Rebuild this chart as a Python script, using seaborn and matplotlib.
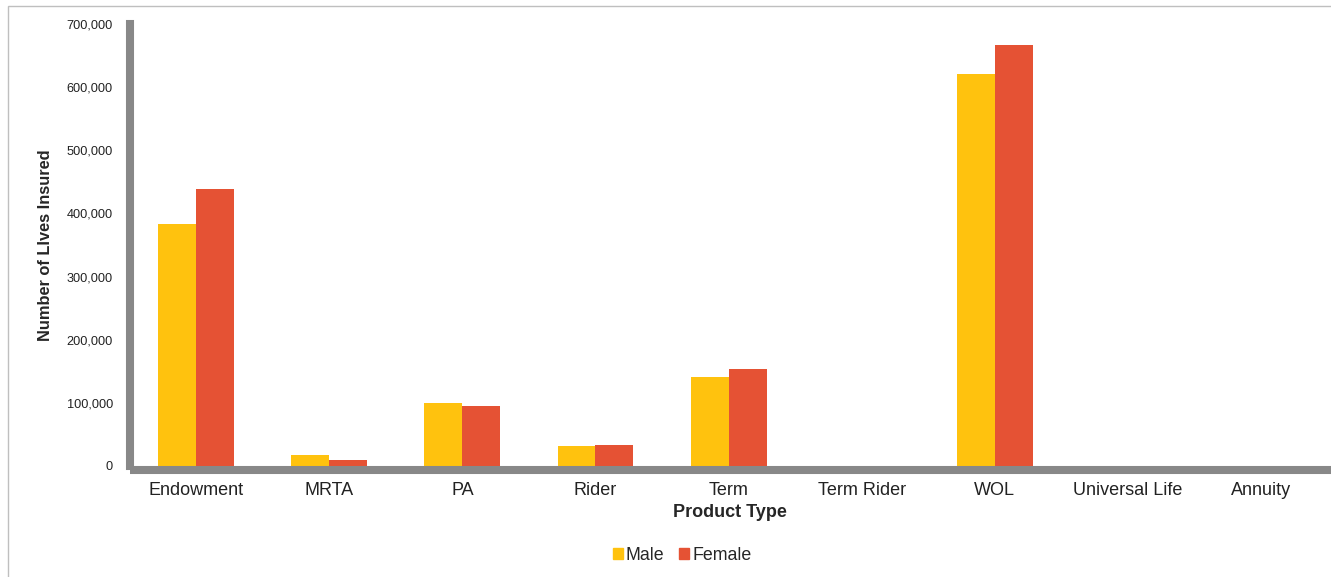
import pandas as pd
import matplotlib.pyplot as plt
import matplotlib.ticker as mtick
import matplotlib.patches as mpatches
import seaborn as sns

### data
products = ['Endowment', 'MRTA', 'PA', 'Rider', 'Term', 'Term Rider',
            'WOL', 'Universal Life', 'Annuity']
male = [384000, 17000, 99000, 32000, 141000, 0, 621000, 0, 0]
female = [439000, 10000, 95000, 34000, 154000, 0, 667000, 0, 0]
genders = ['Male', 'Female']
colors = ['#FFC20E', '#E55234']

df = pd.DataFrame({'Product': products * 2,
                   'Gender': ['Male'] * len(products) + ['Female'] * len(products),
                   'Lives': male + female})

sns.set_style('white')
plt.rcParams['font.family'] = ['Liberation Sans', 'DejaVu Sans']

fig = plt.figure(figsize=(13.31, 5.77), dpi=100)
ax = fig.add_axes([129.5 / 1331, 1 - 466 / 577, (1331 - 129.5) / 1331, (466 - 24) / 577])

sns.barplot(data=df, x='Product', y='Lives', hue='Gender', order=products,
            hue_order=genders, palette=colors, width=0.57, saturation=1,
            edgecolor='none', ax=ax, legend=False)

# axis runs a little past the last category, out to the frame edge
ax.set_xlim(-0.5, len(products) - 0.5 + 0.025)
ax.set_ylim(0, 700000)
ax.yaxis.set_major_locator(mtick.MultipleLocator(100000))
ax.yaxis.set_major_formatter(mtick.StrMethodFormatter('{x:,.0f}'))
ax.tick_params(axis='y', length=0, pad=12, labelsize=9.2, colors='#222222')
ax.tick_params(axis='x', length=0, pad=8, labelsize=13, colors='#222222')

for s in ['top', 'right']:
    ax.spines[s].set_visible(False)
for s in ['left', 'bottom']:
    ax.spines[s].set_color('#888888')
    ax.spines[s].set_linewidth(5.8)
ax.spines['bottom'].set_position(('outward', 3.2))
ax.spines['bottom'].set_capstyle('butt')

ax.set_xlabel('Product Type', fontsize=13, fontweight='bold', labelpad=4)
ax.set_ylabel('Number of LIves Insured', fontsize=11.8, fontweight='bold', labelpad=9.5)

handles = [mpatches.Patch(color=c, label=g) for g, c in zip(genders, colors)]
fig.legend(handles=handles, loc='center', bbox_to_anchor=(682 / 1331, 1 - 555 / 577),
           ncol=2, frameon=False, fontsize=12.8, handlelength=0.6, handleheight=0.6,
           handletextpad=0.15, columnspacing=0.8)

# light frame round the chart area
fig.patches.append(mpatches.Rectangle((8 / 1331, -0.01), 1.0, 1 - 6 / 577 + 0.01,
                                      transform=fig.transFigure, fill=False,
                                      edgecolor='#BFBFBF', linewidth=1))

fig.savefig('out.png', dpi=100)
